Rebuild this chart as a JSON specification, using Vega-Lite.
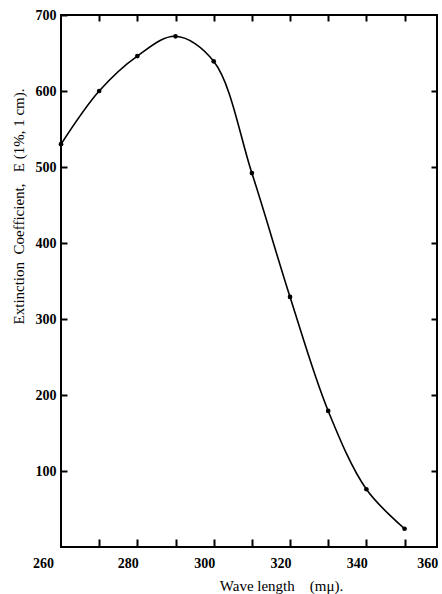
{
  "$schema": "https://vega.github.io/schema/vega-lite/v6.json",
  "width": 376,
  "height": 532,
  "autosize": "none",
  "padding": {"left": 61, "top": 15, "right": 5, "bottom": 47},
  "background": "white",
  "config": {
    "view": {"stroke": "black", "strokeWidth": 2},
    "axis": {
      "domain": false,
      "grid": false,
      "tickColor": "black",
      "tickWidth": 2,
      "labelColor": "black",
      "titleColor": "black",
      "labelFont": "Liberation Serif",
      "titleFont": "Liberation Serif",
      "labelFontSize": 14,
      "labelFontWeight": "bold",
      "titleFontSize": 15,
      "titleFontWeight": "normal",
      "labelFlush": false,
      "labelOverlap": false
    }
  },
  "data": {
    "values": [
      {"wavelength": 262.5, "E": 530},
      {"wavelength": 272.5, "E": 600},
      {"wavelength": 282.5, "E": 646},
      {"wavelength": 292.5, "E": 672},
      {"wavelength": 302.5, "E": 639},
      {"wavelength": 312.5, "E": 492},
      {"wavelength": 322.5, "E": 329},
      {"wavelength": 332.5, "E": 179},
      {"wavelength": 342.5, "E": 76},
      {"wavelength": 352.5, "E": 24}
    ]
  },
  "resolve": {"axis": {"x": "independent", "y": "independent"}},
  "layer": [
    {
      "mark": {"type": "line", "interpolate": "catmull-rom", "color": "black", "strokeWidth": 1.6},
      "encoding": {
        "x": {
          "field": "wavelength", "type": "quantitative",
          "scale": {"domain": [262.5, 361], "nice": false, "zero": false},
          "axis": {
            "orient": "bottom",
            "values": [262.5, 280, 300, 320, 340, 360],
            "ticks": false,
            "labelPadding": 9,
            "labelExpr": "datum.value < 270 ? '260' : datum.label",
            "labelOffset": {"condition": [{"test": "datum.value < 270", "value": -18}, {"test": "datum.value > 350", "value": -6}], "value": 0},
            "title": "Wave length\u00a0\u00a0\u00a0\u00a0(mμ).",
            "titleX": 220,
            "titleY": 43,
            "titleBaseline": "alphabetic",
            "titleAlign": "center"
          }
        },
        "y": {
          "field": "E", "type": "quantitative",
          "scale": {"domain": [0, 700], "nice": false, "zero": true},
          "axis": {
            "orient": "left",
            "values": [100, 200, 300, 400, 500, 600, 700],
            "tickSize": -6,
            "labelPadding": 11,
            "title": "Extinction\u00a0\u00a0Coefficient,\u00a0\u00a0\u00a0E (1%, 1 cm).",
            "titleX": -43,
            "titleY": 191,
            "titleAngle": -90,
            "titleBaseline": "middle",
            "titleAlign": "center"
          }
        }
      }
    },
    {
      "mark": {"type": "point", "filled": true, "color": "black", "size": 22, "opacity": 1},
      "encoding": {
        "x": {
          "field": "wavelength", "type": "quantitative",
          "scale": {"domain": [262.5, 361], "nice": false, "zero": false},
          "axis": {
            "orient": "bottom",
            "values": [272.5, 282.5, 292.5, 302.5, 312.5, 322.5, 332.5, 342.5, 352.5],
            "tickSize": -8,
            "labels": false,
            "title": null
          }
        },
        "y": {
          "field": "E", "type": "quantitative",
          "scale": {"domain": [0, 700], "nice": false, "zero": true},
          "axis": {
            "orient": "right",
            "values": [100, 200, 300, 400, 500, 600],
            "tickSize": -6,
            "labels": false,
            "title": null
          }
        }
      }
    },
    {
      "mark": {"type": "point", "opacity": 0},
      "encoding": {
        "x": {
          "field": "wavelength", "type": "quantitative",
          "scale": {"domain": [262.5, 361], "nice": false, "zero": false},
          "axis": {
            "orient": "top",
            "values": [272.5, 282.5, 292.5, 302.5, 312.5, 322.5, 332.5, 342.5, 352.5],
            "tickSize": -6,
            "labels": false,
            "title": null
          }
        },
        "y": {
          "field": "E", "type": "quantitative",
          "scale": {"domain": [0, 700], "nice": false, "zero": true},
          "axis": null
        }
      }
    }
  ]
}
